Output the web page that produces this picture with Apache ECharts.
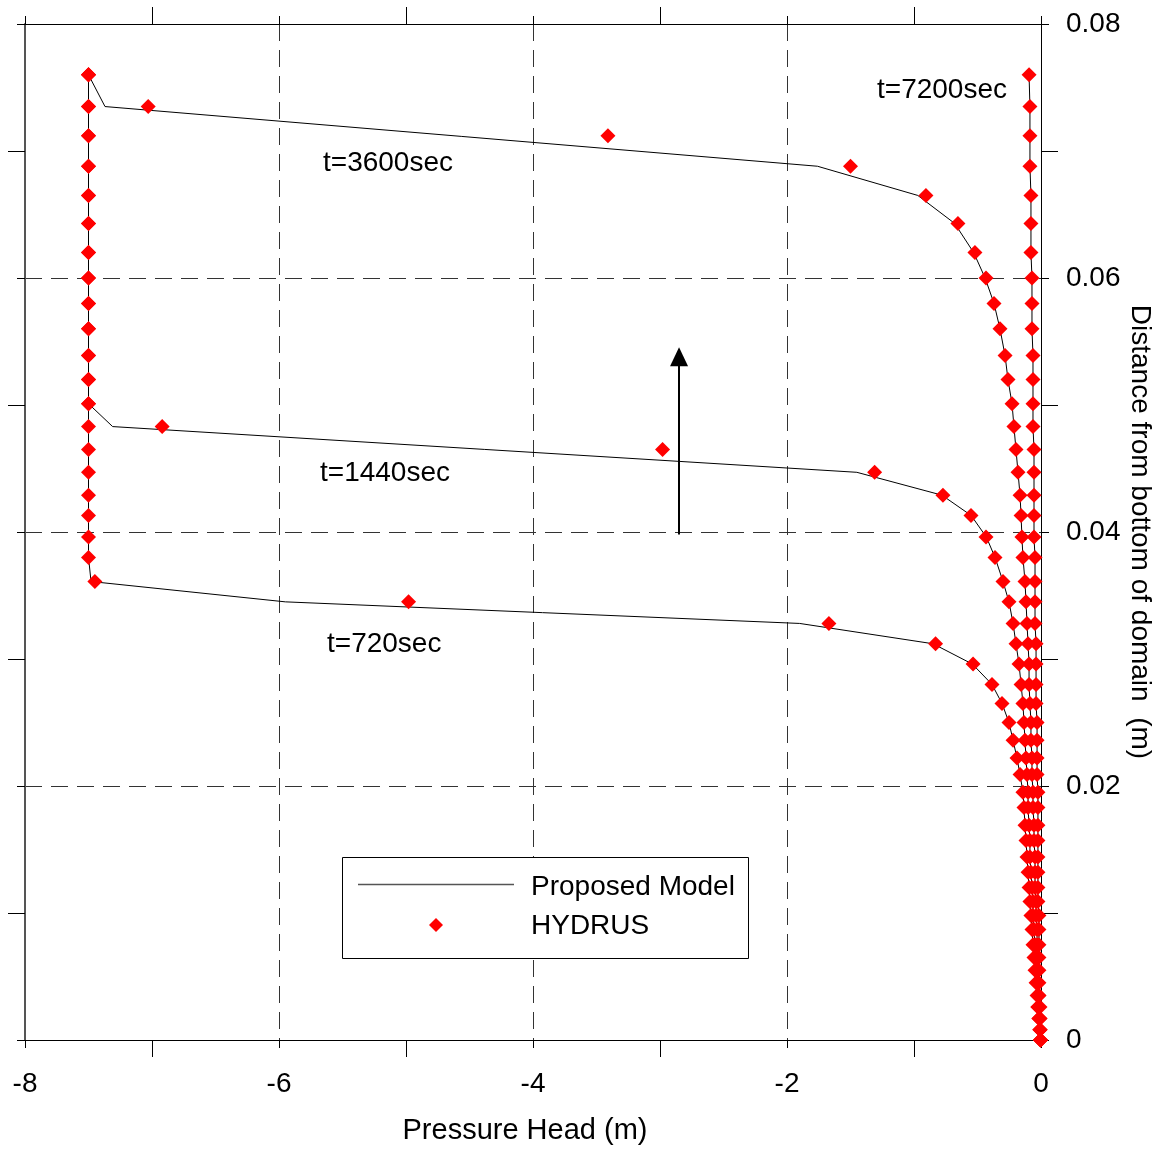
<!DOCTYPE html>
<html>
<head>
<meta charset="utf-8">
<script src="https://cdn.jsdelivr.net/npm/echarts@6/dist/echarts.min.js"></script>
<style>html,body{margin:0;padding:0;background:#fff}#c{width:1165px;height:1149px}</style>
</head>
<body>
<div id="c"></div>
<script>
// Depth levels (m) of the computation nodes
var depth = [0.0760,0.0735,0.0712,0.0688,0.0665,0.0643,0.0620,0.0600,0.0580,0.0560,
  0.0539,0.0520,0.0501,0.0483,0.0465,0.0447,0.0429,0.0413,0.0396,0.0380,
  0.0361,0.0345,0.0328,0.0312,0.0296,0.0280,0.0265,0.0250,0.0236,0.0222,
  0.0209,0.0195,0.0183,0.0169,0.0157,0.0144,0.0132,0.0120,0.0109,0.0098,
  0.0087,0.0075,0.0065,0.0055,0.0045,0.0035,0.0026,0.0017,0.0008,0.0];

// HYDRUS pressure heads (m)
var hydrus720 = [-7.5,-7.5,-7.5,-7.5,-7.5,-7.5,-7.5,-7.5,-7.5,-7.5,
  -7.5,-7.5,-7.5,-7.5,-7.5,-7.5,-7.5,-7.5,-7.5,-7.5,
  -7.45,-4.98,-1.67,-0.83,-0.535,-0.386,-0.307,-0.252,-0.22,-0.189,
  -0.165,-0.142,-0.134,-0.126,-0.118,-0.110,-0.102,-0.094,-0.087,-0.079,
  -0.071,-0.063,-0.055,-0.047,-0.039,-0.031,-0.024,-0.016,-0.008,-0.004];
var hydrus1440 = [-7.5,-7.5,-7.5,-7.5,-7.5,-7.5,-7.5,-7.5,-7.5,-7.5,
  -7.5,-7.5,-7.5,-6.92,-2.98,-1.31,-0.772,-0.551,-0.433,-0.362,
  -0.299,-0.252,-0.220,-0.197,-0.173,-0.157,-0.142,-0.134,-0.126,-0.118,
  -0.110,-0.102,-0.102,-0.094,-0.087,-0.087,-0.079,-0.071,-0.063,-0.063,
  -0.055,-0.047,-0.039,-0.039,-0.031,-0.024,-0.024,-0.016,-0.008,-0.004];
var hydrus3600 = [-7.5,-7.03,-3.41,-1.50,-0.906,-0.654,-0.520,-0.433,-0.370,-0.323,
  -0.283,-0.260,-0.228,-0.213,-0.197,-0.181,-0.165,-0.157,-0.150,-0.142,
  -0.126,-0.118,-0.110,-0.102,-0.094,-0.094,-0.087,-0.079,-0.079,-0.071,
  -0.071,-0.063,-0.063,-0.055,-0.055,-0.047,-0.047,-0.047,-0.039,-0.039,
  -0.031,-0.031,-0.024,-0.024,-0.024,-0.016,-0.016,-0.008,-0.008,-0.004];
var hydrus7200 = [-0.094,-0.087,-0.087,-0.087,-0.079,-0.079,-0.079,-0.071,-0.071,-0.071,
  -0.063,-0.063,-0.063,-0.063,-0.055,-0.055,-0.055,-0.055,-0.055,-0.047,
  -0.047,-0.047,-0.047,-0.039,-0.039,-0.039,-0.039,-0.031,-0.031,-0.031,
  -0.031,-0.024,-0.024,-0.024,-0.024,-0.024,-0.024,-0.024,-0.024,-0.016,
  -0.016,-0.016,-0.016,-0.016,-0.016,-0.016,-0.008,-0.008,-0.008,-0.004];

// Proposed model pressure heads (m); null = not a vertex of the drawn polyline
var model720 = [-7.5,-7.5,-7.5,-7.5,-7.5,-7.5,-7.5,-7.5,-7.5,-7.5,
  -7.5,-7.5,-7.5,-7.5,-7.5,-7.5,-7.5,-7.5,-7.5,-7.5,
  -7.48,-5.95,-1.90,-0.85,-0.54,-0.386,-0.307,-0.252,-0.22,-0.189,
  -0.165,-0.142,-0.134,-0.126,-0.118,-0.110,-0.102,-0.094,-0.087,-0.079,
  -0.071,-0.063,-0.055,-0.047,-0.039,-0.031,-0.024,-0.016,-0.008,-0.004];
var model1440 = [-7.5,-7.5,-7.5,-7.5,-7.5,-7.5,-7.5,-7.5,-7.5,-7.5,
  -7.5,-7.5,-7.5,-7.31,null,-1.45,-0.78,-0.55,-0.43,-0.362,
  -0.299,-0.252,-0.220,-0.197,-0.173,-0.157,-0.142,-0.134,-0.126,-0.118,
  -0.110,-0.102,-0.102,-0.094,-0.087,-0.087,-0.079,-0.071,-0.063,-0.063,
  -0.055,-0.047,-0.039,-0.039,-0.031,-0.024,-0.024,-0.016,-0.008,-0.004];
var model3600 = [-7.5,-7.37,null,-1.76,-0.97,-0.68,-0.53,-0.44,-0.370,-0.323,
  -0.283,-0.260,-0.228,-0.213,-0.197,-0.181,-0.165,-0.157,-0.150,-0.142,
  -0.126,-0.118,-0.110,-0.102,-0.094,-0.094,-0.087,-0.079,-0.079,-0.071,
  -0.071,-0.063,-0.063,-0.055,-0.055,-0.047,-0.047,-0.047,-0.039,-0.039,
  -0.031,-0.031,-0.024,-0.024,-0.024,-0.016,-0.016,-0.008,-0.008,-0.004];
var model7200 = [-0.094,-0.087,-0.087,-0.087,-0.079,-0.079,-0.079,-0.071,-0.071,-0.071,
  -0.063,-0.063,-0.063,-0.063,-0.055,-0.055,-0.055,-0.055,-0.055,-0.047,
  -0.047,-0.047,-0.047,-0.039,-0.039,-0.039,-0.039,-0.031,-0.031,-0.031,
  -0.031,-0.024,-0.024,-0.024,-0.024,-0.024,-0.024,-0.024,-0.024,-0.016,
  -0.016,-0.016,-0.016,-0.016,-0.016,-0.016,-0.008,-0.008,-0.008,-0.004];

var timeLabels = ['t=720sec','t=1440sec','t=3600sec','t=7200sec'];
var arrowX = -2.85, arrowFrom = 0.0398, arrowTo = 0.0538;

var FONT = '"Liberation Sans", Arial, sans-serif';

function pairs(vals) {
  var out = [];
  for (var i = 0; i < vals.length; i++) if (vals[i] !== null) out.push([vals[i], depth[i]]);
  return out;
}

var chart = echarts.init(document.getElementById('c'), null, {renderer: 'canvas'});

function axisCommon(extra) {
  var base = {
    type: 'value',
    axisLine: {show: true, onZero: false, lineStyle: {color: '#000', width: 1}},
    axisTick: {show: true, inside: false, length: 8, lineStyle: {color: '#000', width: 1}},
    minorTick: {show: true, splitNumber: 2, length: 17, lineStyle: {color: '#000', width: 1}},
    splitLine: {show: false},
    axisLabel: {show: false}
  };
  for (var k in extra) base[k] = extra[k];
  return base;
}
var dash = {show: true, showMinLine: false, showMaxLine: false, lineStyle: {color: '#333', width: 1, type: [17, 9]}};

var modelSets = [model720, model1440, model3600, model7200];
var hydrusSets = [hydrus720, hydrus1440, hydrus3600, hydrus7200];
var series = [];
modelSets.forEach(function (m, i) {
  var s = {
    name: 'Proposed Model ' + timeLabels[i], type: 'line', data: pairs(m),
    symbol: 'none', showSymbol: false, connectNulls: true,
    lineStyle: {color: '#000', width: 1}, z: 2, silent: true
  };
  if (i === 0) {
    s.markLine = {
      silent: true, symbol: ['none', 'triangle'], symbolSize: [18, 19],
      label: {show: false},
      lineStyle: {color: '#000', width: 2, type: 'solid'},
      data: [[{coord: [arrowX, arrowFrom]}, {coord: [arrowX, arrowTo]}]]
    };
  }
  series.push(s);
});
hydrusSets.forEach(function (h, i) {
  series.push({
    name: 'HYDRUS ' + timeLabels[i], type: 'scatter', data: pairs(h),
    symbol: 'diamond', symbolSize: 15, itemStyle: {color: '#ff0000', opacity: 1}, z: 3, silent: true
  });
});

chart.setOption({
  animation: false,
  backgroundColor: '#fff',
  grid: {left: 25, right: 124, top: 24, bottom: 109, containLabel: false, outerBoundsMode: 'none'},
  xAxis: [
    axisCommon({position: 'bottom', min: -8, max: 0, interval: 2,
      splitLine: dash,
      axisLabel: {show: true, margin: 30, fontSize: 28, color: '#000', fontFamily: FONT},
      name: 'Pressure Head (m)', nameLocation: 'middle', nameGap: 76,
      nameTextStyle: {fontSize: 29, color: '#000', fontFamily: FONT, padding: [0, 16, 0, 0]}}),
    axisCommon({position: 'top', min: -8, max: 0, interval: 2})
  ],
  yAxis: [
    axisCommon({position: 'right', min: 0, max: 0.08, interval: 0.02,
      splitLine: dash,
      axisLabel: {show: true, margin: 25, fontSize: 28, color: '#000', fontFamily: FONT,
        formatter: function (v) { return v === 0 ? '0' : v.toFixed(2); }},
      name: 'Distance from bottom of domain  (m)', nameLocation: 'middle', nameGap: 85, nameRotate: -90,
      nameMoveOverlap: false,
      nameTextStyle: {fontSize: 28, color: '#000', fontFamily: FONT}}),
    axisCommon({position: 'left', min: 0, max: 0.08, interval: 0.02,
      axisLine: {show: true, onZero: false, lineStyle: {color: '#555', width: 2}}})
  ],
  series: series,
  graphic: [
    {type: 'text', x: 323, y: 163, z: 50, style: {text: timeLabels[2], font: '28px ' + FONT, fill: '#000', align: 'left', verticalAlign: 'middle'}},
    {type: 'text', x: 320, y: 473, z: 50, style: {text: timeLabels[1], font: '28px ' + FONT, fill: '#000', align: 'left', verticalAlign: 'middle'}},
    {type: 'text', x: 327, y: 644, z: 50, style: {text: timeLabels[0], font: '28px ' + FONT, fill: '#000', align: 'left', verticalAlign: 'middle'}},
    {type: 'text', x: 877, y: 90, z: 50, style: {text: timeLabels[3], font: '28px ' + FONT, fill: '#000', align: 'left', verticalAlign: 'middle'}},
    {type: 'rect', z: 100, shape: {x: 342.5, y: 857.5, width: 406, height: 101}, style: {fill: '#fff', stroke: '#000', lineWidth: 1}},
    {type: 'line', z: 101, shape: {x1: 358, y1: 884.5, x2: 514, y2: 884.5}, style: {stroke: '#555', lineWidth: 1.5}},
    {type: 'polygon', z: 101, shape: {points: [[436, 918], [443, 925], [436, 932], [429, 925]]}, style: {fill: '#ff0000'}},
    {type: 'text', z: 101, x: 531, y: 887, style: {text: 'Proposed Model', font: '28px ' + FONT, fill: '#000', align: 'left', verticalAlign: 'middle'}},
    {type: 'text', z: 101, x: 531, y: 926, style: {text: 'HYDRUS', font: '28px ' + FONT, fill: '#000', align: 'left', verticalAlign: 'middle'}}
  ]
});
</script>
</body>
</html>
